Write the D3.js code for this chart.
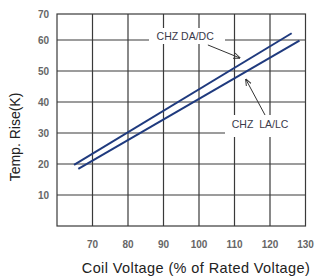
<!DOCTYPE html>
<html>
<head>
<meta charset="utf-8">
<script src="https://cdn.jsdelivr.net/npm/d3@7"></script>
<style>
  body { margin: 0; background: #fff; }
  text { font-family: "Liberation Sans", Arial, sans-serif; }
</style>
</head>
<body>
<div id="chart"></div>
<script>
// datos
var xTicks = [70, 80, 90, 100, 110, 120, 130];
var yTicks = [10, 20, 30, 40, 50, 60, 70];
var seriesNames = ["CHZ DA/DC", "CHZ  LA/LC"];
var daVoltage = [64.8, 126.1];
var daTemp = [19.7, 62.6];
var laVoltage = [66.0, 128.3];
var laTemp = [18.4, 59.8];
// label anchors [voltage, temp] and arrows [from, to]
var labelPos = [[96.1, 61.3], [117.2, 32.9]];
var arrowFrom = [[102.5, 58.4], [118.6, 35.8]];
var arrowTo = [[111.5, 54.2], [113.2, 47.3]];

var width = 315, height = 277;
var lineColor = "#1f3a7e";
var gridColor = "#3a3a3a";

var x = d3.scaleLinear().domain([60, 130]).range([57, 305.5]);
// top band (60-70) is drawn narrower in the original
var y = d3.scaleLinear().domain([0, 60, 70]).range([226, 40, 14]);

var svg = d3.select("#chart").append("svg")
    .attr("width", width)
    .attr("height", height);

svg.append("defs").append("marker")
    .attr("id", "arrow")
    .attr("viewBox", "0 0 10 10")
    .attr("refX", 9)
    .attr("refY", 5)
    .attr("markerWidth", 7)
    .attr("markerHeight", 7)
    .attr("orient", "auto")
    .append("path")
    .attr("d", "M0,1 L10,5 L0,9")
    .style("fill", "none")
    .style("stroke", "#333")
    .style("stroke-width", 1.4);

// grid
svg.selectAll("line.vgrid")
    .data(xTicks.slice(0, -1))
    .enter().append("line")
    .attr("class", "vgrid")
    .attr("x1", d => x(d)).attr("x2", d => x(d))
    .attr("y1", y(70)).attr("y2", y(0))
    .style("stroke", gridColor).style("stroke-width", 1.2);

svg.selectAll("line.hgrid")
    .data(yTicks.slice(0, -1))
    .enter().append("line")
    .attr("class", "hgrid")
    .attr("x1", x(60)).attr("x2", x(130))
    .attr("y1", d => y(d)).attr("y2", d => y(d))
    .style("stroke", gridColor).style("stroke-width", 1.2);

// label boxes hide the grid behind the text
var boxes = [[149, 28, 76, 16], [225, 115, 81, 22]];
svg.selectAll("rect.lbox")
    .data(boxes)
    .enter().append("rect")
    .attr("x", d => d[0]).attr("y", d => d[1])
    .attr("width", d => d[2]).attr("height", d => d[3])
    .style("fill", "#fff");

// frame
svg.append("rect")
    .attr("x", x(60)).attr("y", y(70))
    .attr("width", x(130) - x(60))
    .attr("height", y(0) - y(70))
    .style("fill", "none")
    .style("stroke", gridColor)
    .style("stroke-width", 1.2);

// series
var line = d3.line().x(d => x(d[0])).y(d => y(d[1]));
var series = [
    d3.zip(daVoltage, daTemp),
    d3.zip(laVoltage, laTemp)
];
svg.selectAll("path.serie")
    .data(series)
    .enter().append("path")
    .attr("class", "serie")
    .attr("d", line)
    .style("fill", "none")
    .style("stroke", lineColor)
    .style("stroke-width", 2);

// labels
svg.selectAll("text.lbl")
    .data(seriesNames)
    .enter().append("text")
    .attr("class", "lbl")
    .attr("x", (d, i) => x(labelPos[i][0]))
    .attr("y", (d, i) => y(labelPos[i][1]))
    .attr("dy", "0.35em")
    .attr("text-anchor", "middle")
    .style("font-size", "10.5px")
    .style("fill", "#3a3a4a")
    .style("white-space", "pre")
    .attr("xml:space", "preserve")
    .text(d => d);

// arrows
svg.selectAll("line.arrow")
    .data(arrowFrom)
    .enter().append("line")
    .attr("class", "arrow")
    .attr("x1", d => x(d[0])).attr("y1", d => y(d[1]))
    .attr("x2", (d, i) => x(arrowTo[i][0])).attr("y2", (d, i) => y(arrowTo[i][1]))
    .style("stroke", "#333")
    .style("stroke-width", 1)
    .attr("marker-end", "url(#arrow)");

// tick labels
svg.selectAll("text.xt")
    .data(xTicks)
    .enter().append("text")
    .attr("class", "xt")
    .attr("x", d => x(d))
    .attr("y", 244)
    .attr("dy", "0.35em")
    .attr("text-anchor", "middle")
    .style("font-size", "10px")
    .style("font-weight", "bold")
    .style("fill", "#666")
    .text(d => d);

svg.selectAll("text.yt")
    .data(yTicks)
    .enter().append("text")
    .attr("class", "yt")
    .attr("x", 49)
    .attr("y", d => y(d))
    .attr("dy", "0.35em")
    .attr("text-anchor", "end")
    .style("font-size", "10px")
    .style("font-weight", "bold")
    .style("fill", "#666")
    .text(d => d);

// axis titles
svg.append("text")
    .attr("x", 196)
    .attr("y", 268)
    .attr("dy", "0.35em")
    .attr("text-anchor", "middle")
    .style("font-size", "14.5px")
    .style("letter-spacing", "0.4px")
    .style("fill", "#222")
    .text("Coil Voltage (% of Rated Voltage)");

svg.append("text")
    .attr("transform", "translate(15,137) rotate(-90)")
    .attr("dy", "0.35em")
    .attr("text-anchor", "middle")
    .style("font-size", "14px")
    .style("fill", "#222")
    .text("Temp. Rise(K)");
</script>
</body>
</html>
